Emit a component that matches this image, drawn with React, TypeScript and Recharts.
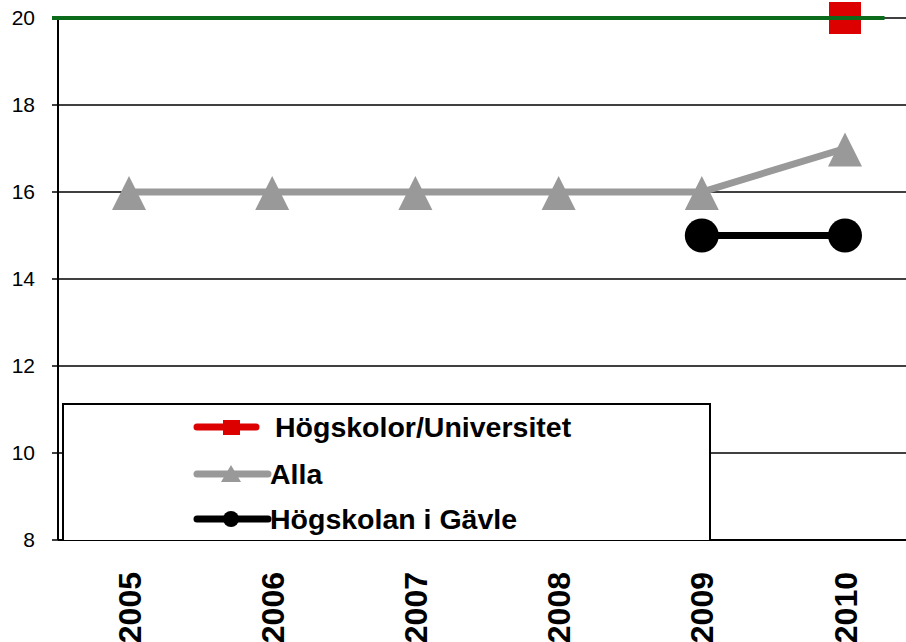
import {
  CartesianGrid,
  Legend,
  Line,
  LineChart,
  ReferenceLine,
  XAxis,
  YAxis,
} from "recharts";

const years = ["2005", "2006", "2007", "2008", "2009", "2010"];
const hogskolorUniversitet = [null, null, null, null, null, 20];
const alla = [16, 16, 16, 16, 16, 17];
const hogskolanGavle = [null, null, null, null, 15, 15];
const yTicks = [8, 10, 12, 14, 16, 18, 20];

// target line: starts at the tick mark and ends at 5.78 of the 6 category bands
const targetValue = 20;
const targetEndBands = 5.78;
const bandCount = years.length;

const seriesOrder = ["hu", "alla", "hig"];

const seriesNames = {
  hu: "Högskolor/Universitet",
  alla: "Alla",
  hig: "Högskolan i Gävle",
};

const seriesColors: Record<string, string> = {
  hu: "#dd0000",
  alla: "#999999",
  hig: "#000000",
};

const FONT = "Arial, 'Liberation Sans', sans-serif";
const Y_TICK_SIZE = 6;

type Row = { year: string; hu: number | null; alla: number | null; hig: number | null };

const chartData: Row[] = years.map((year, i) => ({
  year,
  hu: hogskolorUniversitet[i],
  alla: alla[i],
  hig: hogskolanGavle[i],
}));

function SquareDot(props: any) {
  const { cx, cy, value, index } = props;
  if (cx == null || cy == null || value == null) return <g key={`sq-${index}`} />;
  return (
    <rect key={`sq-${index}`} x={cx - 16} y={cy - 16} width={32} height={32} fill={seriesColors.hu} />
  );
}

function TriangleDot(props: any) {
  const { cx, cy, value, index } = props;
  if (cx == null || cy == null || value == null) return <g key={`tr-${index}`} />;
  return (
    <polygon
      key={`tr-${index}`}
      points={`${cx},${cy - 16} ${cx - 17},${cy + 18} ${cx + 17},${cy + 18}`}
      fill={seriesColors.alla}
    />
  );
}

function CircleDot(props: any) {
  const { cx, cy, value, index } = props;
  if (cx == null || cy == null || value == null) return <g key={`ci-${index}`} />;
  return <circle key={`ci-${index}`} cx={cx} cy={cy} r={17} fill={seriesColors.hig} />;
}

function YearTick(props: any) {
  const { x, y, payload } = props;
  return (
    <text
      x={x}
      y={y}
      dy="0.36em"
      transform={`rotate(-90, ${x}, ${y})`}
      textAnchor="end"
      fontFamily={FONT}
      fontWeight={700}
      fontSize={32}
      fill="#000"
    >
      {payload.value}
    </text>
  );
}

function TargetLine(props: any) {
  const { x1, x2, y1, y2 } = props;
  const left = Math.min(x1, x2);
  const width = Math.abs(x2 - x1);
  return (
    <line
      x1={left - Y_TICK_SIZE}
      y1={y1}
      x2={left + (width * targetEndBands) / bandCount}
      y2={y2}
      stroke="#0b6b1b"
      strokeWidth={4}
    />
  );
}

function LegendIcon({ dataKey }: { dataKey: string }) {
  const color = seriesColors[dataKey];
  const lineEnd = dataKey === "hu" ? 63 : 75;
  return (
    <svg width={80} height={24} style={{ display: "block" }}>
      <line x1={4} y1={12} x2={lineEnd} y2={12} stroke={color} strokeWidth={7} strokeLinecap="round" />
      {dataKey === "hu" && <rect x={30} y={5} width={17} height={15} fill={color} />}
      {dataKey === "alla" && <polygon points="38,3 28,20 48,20" fill={color} />}
      {dataKey === "hig" && <circle cx={38} cy={12} r={8} fill={color} />}
    </svg>
  );
}

function LegendBox(props: any) {
  const payload: any[] = props.payload ?? [];
  const items = seriesOrder
    .map((key) => payload.find((p) => String(p.dataKey) === key))
    .filter(Boolean);
  const rowTops = [22, 69, 114];
  return (
    <div
      style={{
        position: "relative",
        width: 649,
        height: 137,
        border: "2px solid #000",
        borderBottom: "none",
        boxSizing: "border-box",
        background: "#fff",
      }}
    >
      {items.map((item, i) => (
        <div
          key={item.value}
          style={{
            position: "absolute",
            left: 129,
            top: rowTops[i] - 14,
            height: 28,
            display: "flex",
            alignItems: "center",
          }}
        >
          <LegendIcon dataKey={String(item.dataKey)} />
          <span
            style={{
              marginLeft: item.dataKey === "hu" ? 2 : -3,
              fontFamily: FONT,
              fontWeight: 700,
              fontSize: 28.5,
              color: "#000",
              lineHeight: "28px",
              whiteSpace: "nowrap",
            }}
          >
            {item.value}
          </span>
        </div>
      ))}
    </div>
  );
}

export default function App() {
  return (
    <div
      style={{
        position: "absolute",
        left: 0,
        top: 0,
        width: 906,
        height: 642,
        overflow: "hidden",
        background: "#fff",
      }}
    >
      <LineChart
        width={916}
        height={642}
        data={chartData}
        margin={{ top: 18, right: 0, bottom: 0, left: 0 }}
      >
        <CartesianGrid vertical={false} stroke="#000" strokeWidth={1.5} />
        <XAxis
          dataKey="year"
          height={102}
          padding={{ left: 71, right: 71 }}
          axisLine={{ stroke: "#000", strokeWidth: 2 }}
          tickLine={false}
          tickSize={0}
          tickMargin={32}
          tick={<YearTick />}
          interval={0}
        />
        <YAxis
          domain={[8, 20]}
          ticks={yTicks}
          width={58}
          tickSize={Y_TICK_SIZE}
          tickMargin={17}
          axisLine={{ stroke: "#000", strokeWidth: 2 }}
          tickLine={{ stroke: "#000", strokeWidth: 1.5 }}
          tick={{ fontSize: 21, fill: "#000", fontFamily: FONT }}
        />
        <Legend
          layout="vertical"
          align="center"
          verticalAlign="middle"
          content={<LegendBox />}
          wrapperStyle={{ left: 62, top: 403, width: 649, height: 137 }}
        />
        <Line
          dataKey="hu"
          name={seriesNames.hu}
          stroke={seriesColors.hu}
          strokeWidth={7}
          dot={SquareDot}
          activeDot={false}
          isAnimationActive={false}
        />
        <Line
          dataKey="alla"
          name={seriesNames.alla}
          stroke={seriesColors.alla}
          strokeWidth={7}
          dot={TriangleDot}
          activeDot={false}
          isAnimationActive={false}
        />
        <Line
          dataKey="hig"
          name={seriesNames.hig}
          stroke={seriesColors.hig}
          strokeWidth={7}
          dot={CircleDot}
          activeDot={false}
          isAnimationActive={false}
        />
        <ReferenceLine
          y={targetValue}
          ifOverflow="visible"
          shape={<TargetLine />}
          zIndex={2500}
        />
      </LineChart>
    </div>
  );
}
